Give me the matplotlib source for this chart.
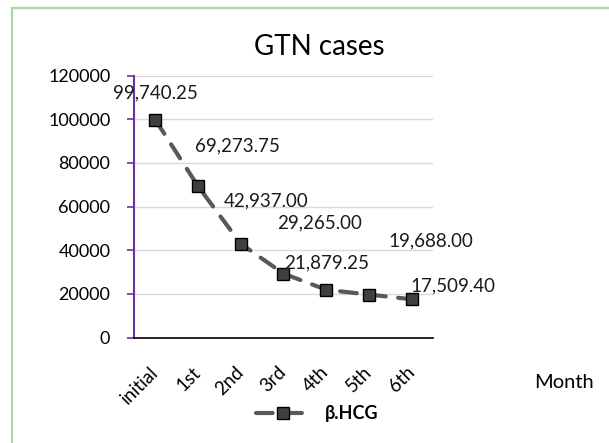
import matplotlib.pyplot as plt
from matplotlib.patches import Rectangle

plt.rcParams['font.family'] = ['Lato', 'DejaVu Sans']

# data
months = ["initial", "1st", "2nd", "3rd", "4th", "5th", "6th"]
hcg = [99740.25, 69273.75, 42937.00, 29265.00, 21879.25, 19688.00, 17509.40]

# label offsets in pixels (dx, dy up) relative to each point
label_offsets = [(0, 27), (39, 40), (25, 43), (36, 51), (0, 27), (62, 54), (41, 13)]

fig = plt.figure(figsize=(6.09, 4.43), dpi=100)
ax = fig.add_axes([0.22, 0.2381, 0.491, 0.5914])

x = list(range(len(months)))
ax.plot(x, hcg, color="#595959", lw=3, linestyle=(0, (4, 3)),
        dash_capstyle="round", marker="s", markersize=8.5,
        markerfacecolor="#404040", markeredgecolor="black",
        markeredgewidth=1, label="β.HCG", zorder=3)

for xi, v, (dx, dy) in zip(x, hcg, label_offsets):
    ax.annotate(f"{v:,.2f}", (xi, v), xytext=(dx * 0.72, dy * 0.72),
                textcoords="offset points", ha="center", va="center",
                fontsize=13.5, color="#1a1a1a")

ax.set_xlim(-0.5, 6.5)
ax.set_ylim(0, 120000)
ax.set_yticks(range(0, 120001, 20000))
ax.set_xticks(x)
ax.set_xticklabels(months, rotation=45, ha="right", va="center",
                   rotation_mode="anchor", fontsize=13.5)
ax.tick_params(axis="x", length=0, pad=23)
ax.tick_params(axis="y", length=5, color="#7030A0", width=1.2,
               labelsize=13, pad=12)
ax.grid(axis="y", color="#d9d9d9", lw=1)
ax.set_axisbelow(True)

for s in ["top", "right"]:
    ax.spines[s].set_visible(False)
ax.spines["left"].set_color("#7030A0")
ax.spines["left"].set_linewidth(1.5)
ax.spines["bottom"].set_color("black")
ax.spines["bottom"].set_linewidth(1.2)

fig.text(319 / 609, 1 - 47 / 443, "GTN cases", ha="center", va="center",
         fontsize=20)
fig.text(564 / 609, 1 - 383 / 443, "Month", ha="center", va="center",
         fontsize=14.5)

leg = fig.legend(loc="center", bbox_to_anchor=(317 / 609, 1 - 414 / 443),
                 frameon=False, handlelength=3.0,
                 prop={"weight": "bold", "size": 13})

# green border (extends past right and bottom edges)
fig.patches.append(Rectangle((11.5 / 609, -0.1), 1.2, 1 - 8 / 443 + 0.1,
                             transform=fig.transFigure, fill=False,
                             edgecolor="#A8D8A4", lw=1.6))

fig.savefig("out.png", dpi=100)
